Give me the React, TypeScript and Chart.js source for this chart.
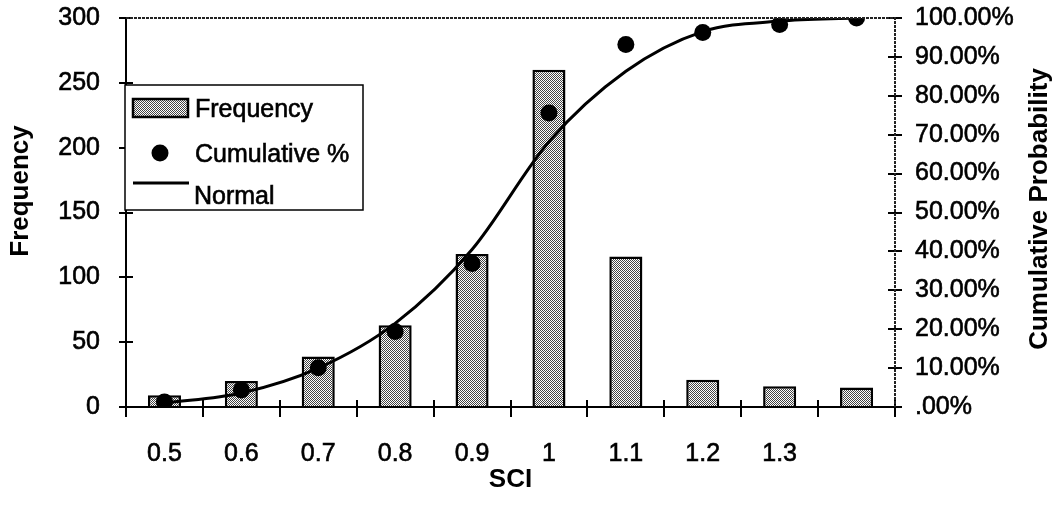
import React, { useEffect, useRef } from 'react';
import { Chart, registerables } from 'chart.js';

Chart.register(...registerables);

// ---- data ----
const categories = ['0.5', '0.6', '0.7', '0.8', '0.9', '1', '1.1', '1.2', '1.3', ''];
const frequency = [9, 20, 39, 63, 118, 260, 116, 21, 16, 15];
const cumulativePct = [1.3, 4.4, 10.1, 19.4, 36.9, 75.6, 93.2, 96.3, 98.3, 100];
const normalPct = [1.0, 3.6, 10.0, 21.5, 40.5, 68.2, 86.3, 96.5, 99.2, 100];
const freqMax = 300;
const freqStep = 50;
const pctMax = 100;
const pctStep = 10;
const seriesLabels = ['Frequency', 'Cumulative %', 'Normal'];
const xTitle = 'SCI';
const yTitle = 'Frequency';
const y2Title = 'Cumulative Probability';

const FONT = '"Liberation Sans", Arial, Helvetica, sans-serif';

export default function App() {
  const ref = useRef<HTMLCanvasElement>(null);

  useEffect(() => {
    document.body.style.margin = '0';
    const canvas = ref.current!;
    const ctx = canvas.getContext('2d')!;

    const pc = document.createElement('canvas');
    pc.width = 2;
    pc.height = 2;
    const p = pc.getContext('2d')!;
    p.fillStyle = '#ffffff';
    p.fillRect(0, 0, 2, 2);
    p.fillStyle = '#444444';
    p.fillRect(0, 0, 1, 1);
    p.fillRect(1, 1, 1, 1);
    const pattern = ctx.createPattern(pc, 'repeat')!;

    const decor = {
      id: 'decor',
      afterDraw(chart: any) {
        const { ctx: c, chartArea: a, scales } = chart;
        const y = scales.y;
        const y2 = scales.y2;
        const x = scales.x;
        c.save();
        // cross ticks on both value axes, inner halves on the category axis
        c.strokeStyle = '#000';
        c.lineWidth = 2;
        c.beginPath();
        y.ticks.forEach((t: any) => {
          const py = Math.round(y.getPixelForValue(t.value));
          c.moveTo(a.left - 7, py);
          c.lineTo(a.left + 7, py);
        });
        y2.ticks.forEach((t: any) => {
          const py = Math.round(y2.getPixelForValue(t.value));
          c.moveTo(a.right - 7, py);
          c.lineTo(a.right + 7, py);
        });
        const n = x.ticks.length;
        for (let i = 0; i <= n; i++) {
          const px = Math.round(a.left + ((a.right - a.left) * i) / n);
          c.moveTo(px, a.bottom - 7);
          c.lineTo(px, a.bottom);
        }
        c.stroke();

        // dotted top & right frame
        c.setLineDash([3, 1]);
        c.strokeStyle = '#222';
        c.beginPath();
        c.moveTo(a.left, a.top);
        c.lineTo(a.right, a.top);
        c.lineTo(a.right, a.bottom);
        c.stroke();
        c.setLineDash([]);

        // vertical axis titles (both read bottom-to-top)
        c.fillStyle = '#000';
        c.font = `bold 26px ${FONT}`;
        c.textAlign = 'center';
        c.textBaseline = 'middle';
        c.save();
        c.translate(21, 191);
        c.rotate(-Math.PI / 2);
        c.fillText(yTitle, 0, 0);
        c.restore();
        c.save();
        c.translate(1040, 209);
        c.rotate(-Math.PI / 2);
        c.fillText(y2Title, 0, 0);
        c.restore();

        // legend box
        const lx = a.left - 1;
        const ly = 85;
        const lw = 238;
        const lh = 125;
        c.fillStyle = '#fff';
        c.fillRect(lx, ly, lw, lh);
        c.strokeStyle = '#000';
        c.lineWidth = 1.5;
        c.strokeRect(lx, ly, lw, lh);

        c.fillStyle = pattern;
        c.fillRect(133, 99, 55, 18);
        c.lineWidth = 2.5;
        c.strokeRect(133, 99, 55, 18);
        c.fillStyle = '#000';
        c.beginPath();
        c.arc(160, 153, 8.5, 0, Math.PI * 2);
        c.fill();
        c.lineWidth = 3;
        c.beginPath();
        c.moveTo(133, 183);
        c.lineTo(189, 183);
        c.stroke();

        c.font = `25px ${FONT}`;
        c.textAlign = 'left';
        c.textBaseline = 'alphabetic';
        c.lineWidth = 0.6;
        const labels = chart.data.datasets.map((d: any) => d.label);
        const rows: [number, number][] = [
          [195, 117],
          [195, 162],
          [194, 204],
        ];
        labels.forEach((lab: string, i: number) => {
          c.fillText(lab, rows[i][0], rows[i][1]);
          c.strokeText(lab, rows[i][0], rows[i][1]);
        });
        c.restore();
      },
    };

    const tickFont = { family: FONT, size: 25 };

    const chart = new Chart(canvas, {
      data: {
        labels: categories,
        datasets: [
          {
            type: 'bar',
            label: seriesLabels[0],
            data: frequency,
            yAxisID: 'y',
            backgroundColor: pattern as any,
            borderColor: '#000',
            borderWidth: 2.5,
            barPercentage: 0.43,
            categoryPercentage: 1,
            order: 2,
          },
          {
            type: 'line',
            label: seriesLabels[1],
            data: cumulativePct,
            yAxisID: 'y2',
            showLine: false,
            pointRadius: 8.5,
            pointBackgroundColor: '#000',
            pointBorderWidth: 0,
            borderColor: '#000',
            order: 0,
          },
          {
            type: 'line',
            label: seriesLabels[2],
            data: normalPct,
            yAxisID: 'y2',
            pointRadius: 0,
            borderColor: '#000',
            borderWidth: 3,
            cubicInterpolationMode: 'monotone',
            fill: false,
            order: 1,
          },
        ],
      } as any,
      options: {
        responsive: false,
        maintainAspectRatio: false,
        animation: false,
        devicePixelRatio: 1,
        layout: { padding: { top: 18, left: 0, right: 0, bottom: 0 } },
        plugins: {
          legend: { display: false },
          title: { display: false },
          tooltip: { enabled: false },
        },
        scales: {
          x: {
            type: 'category',
            offset: true,
            grid: {
              offset: true,
              drawOnChartArea: false,
              drawTicks: true,
              tickLength: 10,
              color: '#000',
              lineWidth: 2,
            },
            border: { display: true, color: '#000', width: 2 },
            ticks: {
              color: '#000',
              font: tickFont,
              padding: 22,
              maxRotation: 0,
              autoSkip: false,
              textStrokeColor: '#000',
              textStrokeWidth: 0.6,
            },
            title: {
              display: true,
              text: xTitle,
              color: '#000',
              font: { family: FONT, size: 26, weight: 'bold' },
              padding: { top: 0, bottom: 16 },
            },
            afterFit(scale: any) {
              scale.height = 104;
            },
          },
          y: {
            type: 'linear',
            position: 'left',
            min: 0,
            max: freqMax,
            grid: {
              drawOnChartArea: false,
              drawTicks: true,
              tickLength: 26,
              tickColor: 'rgba(0,0,0,0)',
              color: '#000',
              lineWidth: 2,
            },
            border: { display: true, color: '#000', width: 2 },
            ticks: {
              stepSize: freqStep,
              color: '#000',
              font: tickFont,
              padding: 0,
              textStrokeColor: '#000',
              textStrokeWidth: 0.6,
            },
            afterFit(scale: any) {
              scale.width = 126;
            },
          },
          y2: {
            type: 'linear',
            position: 'right',
            min: 0,
            max: pctMax,
            grid: {
              drawOnChartArea: false,
              drawTicks: true,
              tickLength: 20,
              tickColor: 'rgba(0,0,0,0)',
              color: '#000',
              lineWidth: 2,
            },
            border: { display: false },
            ticks: {
              stepSize: pctStep,
              color: '#000',
              font: tickFont,
              padding: 0,
              textStrokeColor: '#000',
              textStrokeWidth: 0.6,
              callback: (v: any) => (Number(v) === 0 ? '.00%' : Number(v).toFixed(2) + '%'),
            },
            afterFit(scale: any) {
              scale.width = 162;
            },
          },
        },
      } as any,
      plugins: [decor],
    });

    return () => chart.destroy();
  }, []);

  return (
    <div style={{ width: 1057, height: 511 }}>
      <canvas ref={ref} width={1057} height={511} style={{ display: 'block' }} />
    </div>
  );
}
